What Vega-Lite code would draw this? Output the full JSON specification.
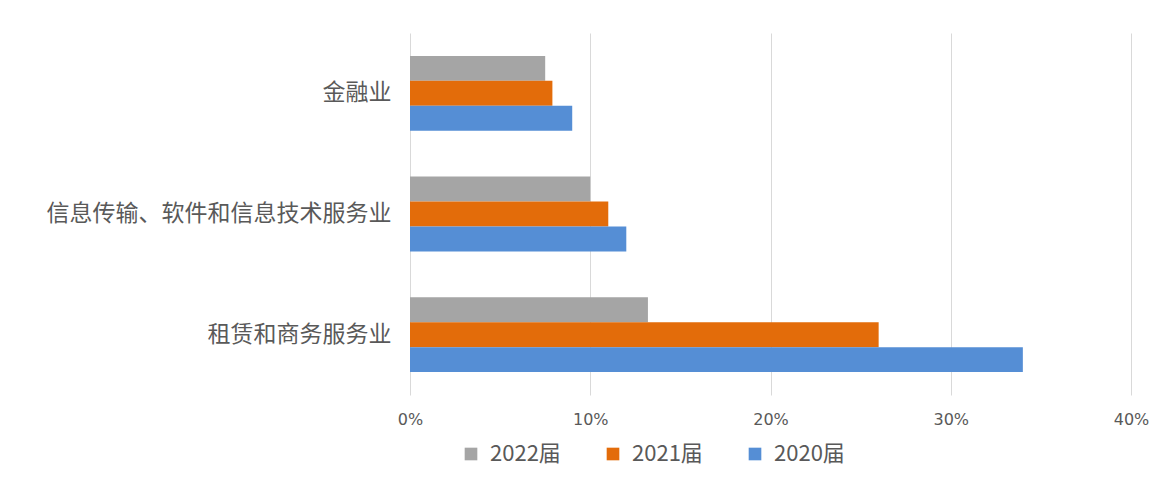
{
  "$schema": "https://vega.github.io/schema/vega-lite/v6.json",
  "autosize": {"type": "none"},
  "width": 721,
  "height": 362,
  "padding": {"left": 410, "top": 33, "right": 27, "bottom": 86},
  "background": "white",
  "config": {
    "view": {"stroke": null},
    "font": "Noto Sans CJK SC"
  },
  "data": {
    "values": [
      {"industry": "金融业", "year": "2022届", "value": 0.075},
      {"industry": "金融业", "year": "2021届", "value": 0.079},
      {"industry": "金融业", "year": "2020届", "value": 0.090},
      {"industry": "信息传输、软件和信息技术服务业", "year": "2022届", "value": 0.100},
      {"industry": "信息传输、软件和信息技术服务业", "year": "2021届", "value": 0.110},
      {"industry": "信息传输、软件和信息技术服务业", "year": "2020届", "value": 0.120},
      {"industry": "租赁和商务服务业", "year": "2022届", "value": 0.132},
      {"industry": "租赁和商务服务业", "year": "2021届", "value": 0.260},
      {"industry": "租赁和商务服务业", "year": "2020届", "value": 0.340}
    ]
  },
  "mark": {"type": "bar"},
  "encoding": {
    "y": {
      "field": "industry",
      "type": "nominal",
      "sort": ["金融业", "信息传输、软件和信息技术服务业", "租赁和商务服务业"],
      "scale": {"paddingInner": 0.38, "paddingOuter": 0.19},
      "axis": {
        "title": null,
        "domain": false,
        "ticks": false,
        "labelFontSize": 23,
        "labelColor": "#595959",
        "labelPadding": 19,
        "labelLimit": 500
      }
    },
    "yOffset": {
      "field": "year",
      "type": "nominal",
      "sort": ["2022届", "2021届", "2020届"],
      "scale": {"paddingInner": 0, "paddingOuter": 0}
    },
    "x": {
      "field": "value",
      "type": "quantitative",
      "scale": {"domain": [0, 0.4], "nice": false},
      "axis": {
        "title": null,
        "format": ".0%",
        "values": [0, 0.1, 0.2, 0.3, 0.4],
        "domain": false,
        "ticks": false,
        "grid": true,
        "gridColor": "#D9D9D9",
        "labelFontSize": 16,
        "labelColor": "#595959",
        "labelPadding": 16,
        "labelFlush": false,
        "labelFont": "DejaVu Sans"
      }
    },
    "color": {
      "field": "year",
      "type": "nominal",
      "scale": {
        "domain": ["2022届", "2021届", "2020届"],
        "range": ["#A5A5A5", "#E36C0A", "#558ED5"]
      },
      "legend": {
        "title": null,
        "orient": "none",
        "direction": "horizontal",
        "legendX": 50,
        "legendY": 410,
        "symbolType": "square",
        "symbolSize": 160,
        "symbolStrokeWidth": 0,
        "labelFontSize": 22,
        "labelColor": "#595959",
        "labelOffset": 8,
        "columnPadding": 41
      }
    }
  }
}
